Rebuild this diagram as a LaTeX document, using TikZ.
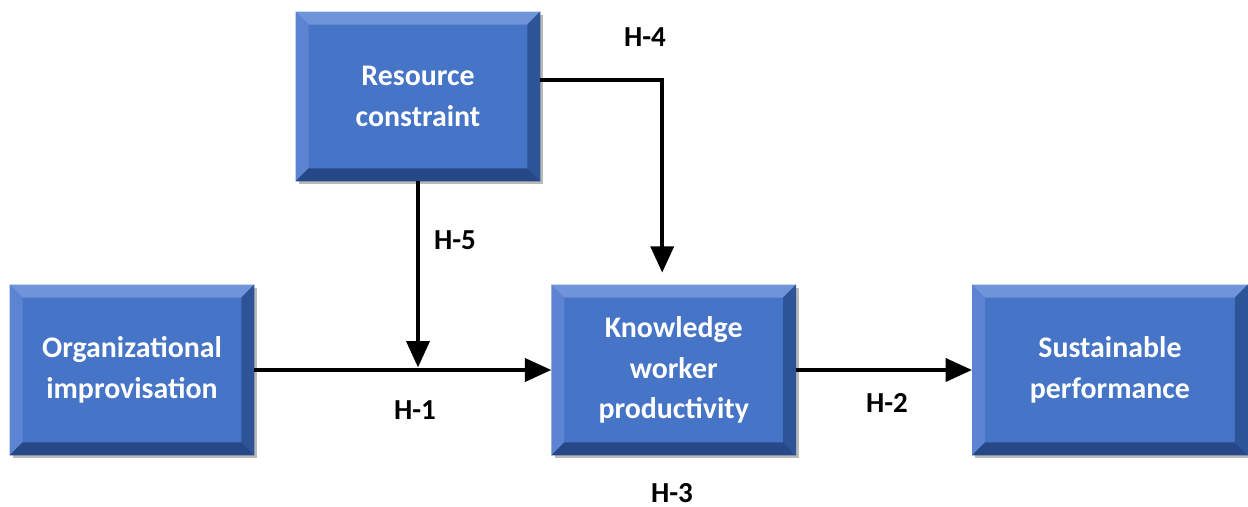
\documentclass[tikz,border=0pt]{standalone}
\usepackage{fontspec}
\setmainfont{Carlito}
\usetikzlibrary{calc, positioning, arrows.meta, shadows}

\definecolor{boxblue}{RGB}{70,116,198}
\definecolor{bevtop}{RGB}{112,148,218}
\definecolor{bevleft}{RGB}{92,132,210}
\definecolor{bevright}{RGB}{46,84,152}
\definecolor{bevbottom}{RGB}{38,72,134}

% bevelled edges round a box
\newcommand{\bevel}[1]{%
    \fill[bevtop] (#1.north west) -- (#1.north east) -- ($(#1.north east)+(-0.26,-0.26)$) -- ($(#1.north west)+(0.26,-0.26)$) -- cycle;
    \fill[bevleft] (#1.north west) -- (#1.south west) -- ($(#1.south west)+(0.26,0.26)$) -- ($(#1.north west)+(0.26,-0.26)$) -- cycle;
    \fill[bevright] (#1.north east) -- (#1.south east) -- ($(#1.south east)+(-0.26,0.26)$) -- ($(#1.north east)+(-0.26,-0.26)$) -- cycle;
    \fill[bevbottom] (#1.south west) -- (#1.south east) -- ($(#1.south east)+(-0.26,0.26)$) -- ($(#1.south west)+(0.26,0.26)$) -- cycle;
}

\begin{document}
\begin{tikzpicture}[node distance=2cm, auto]

    \tikzstyle{block} = [rectangle, fill=boxblue, text=white, font=\bfseries\fontsize{17}{23}\selectfont, align=center, minimum width=4.88cm, minimum height=3.4cm, drop shadow={shadow xshift=0.6mm, shadow yshift=-0.6mm, opacity=0.55}]
    \tikzstyle{hyp} = [font=\bfseries\fontsize{16.5}{20}\selectfont]
    \tikzstyle{line} = [draw, line width=2.3pt, -{Triangle[length=15pt, width=13pt]}]

    \useasboundingbox (0,0) rectangle (24.96,-10.14);

    \node [block] (oi) at (2.64,-7.4) {Organizational\\improvisation};
    \node [block, right=5.94cm of oi] (kwp) {Knowledge\\worker\\productivity};
    \node [block, minimum width=5.5cm, right=3.52cm of kwp] (sp) {Sustainable\\performance};
    \node [block, minimum height=3.38cm] (rc) at (8.36,-1.93) {Resource\\constraint};

    \foreach \b in {oi, kwp, sp, rc} {\bevel{\b}}

    \coordinate (join) at ($(rc.south |- oi.east)+(0,0.05)$);

    \path [line] (oi.east) -- (kwp.west);
    \path [line] (rc.south) -- (join);
    \path [line] ($(rc.east)+(0,0.33)$) -| ($(kwp.north)+(-0.23,0.24)$);
    \path [line] (kwp.east) -- (sp.west);

    \node [hyp] (h4) at (12.9,-0.74) {H-4};
    \node [hyp] (h5) at (9.1,-4.8) {H-5};
    \node [hyp] (h1) at (8.3,-8.2) {H-1};
    \node [hyp] (h2) at (17.74,-8.06) {H-2};
    \node [hyp] (h3) at (13.44,-9.86) {H-3};
\end{tikzpicture}
\end{document}
